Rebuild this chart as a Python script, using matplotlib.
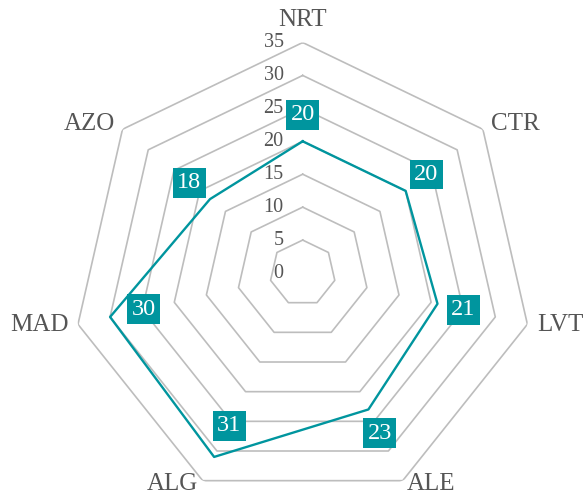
import numpy as np
import matplotlib
matplotlib.use('Agg')
import matplotlib.pyplot as plt

# datos del radar
categorias = ['NRT', 'CTR', 'LVT', 'ALE', 'ALG', 'MAD', 'AZO']
valores = [20, 20, 21, 23, 31, 30, 18]
niveles = [0, 5, 10, 15, 20, 25, 30, 35]

TEAL = '#00959E'
GRIS = '#BDBDBD'
TEXTO = '#555555'

plt.rcParams['font.family'] = ['Liberation Serif', 'DejaVu Serif']

fig = plt.figure(figsize=(5.84, 4.99), dpi=100)
ax = fig.add_axes([0.1236, -0.009, 0.7894, 0.9238], projection='polar')
ax.set_theta_zero_location('N')
ax.set_theta_direction(-1)
ax.set_ylim(0, 35)
ax.set_axis_off()

n = len(categorias)
ang = np.arange(n) * 2 * np.pi / n
ang_c = np.append(ang, ang[0])

# anillos (heptagonos)
for nv in niveles[1:]:
    ax.plot(ang_c, [nv] * (n + 1), color=GRIS, lw=1.2, zorder=1)

# etiquetas del eje radial
for nv in niveles:
    ax.annotate(str(nv), xy=(0, nv), xytext=(-19, 0), textcoords='offset pixels',
                ha='right', va='center', fontsize=14.5, color=TEXTO)

# serie
v_c = valores + [valores[0]]
ax.plot(ang_c, v_c, color=TEAL, lw=1.7, zorder=3)

# etiquetas de valores
for a, v in zip(ang, valores):
    r = v + 4 if v < 25 else v - 5.25
    ax.text(a, r, str(v), ha='center', va='center', fontsize=17.5, color='white',
            zorder=4, bbox=dict(boxstyle='square,pad=0.18', fc=TEAL, ec='none'))

# etiquetas de categorias
for a, c in zip(ang, categorias):
    s, co = np.sin(a), np.cos(a)
    if abs(s) < 0.1:
        ax.annotate(c, xy=(a, 35), xytext=(0, 12), textcoords='offset pixels',
                    ha='center', va='bottom', fontsize=18, color=TEXTO)
    else:
        dy = 8 * co if co >= 0 else 4 * co
        ax.annotate(c, xy=(a, 35), xytext=(10 * s, dy), textcoords='offset pixels',
                    ha='left' if s > 0 else 'right', va='center', fontsize=18,
                    color=TEXTO, annotation_clip=False)

fig.savefig('out.png', dpi=100)
